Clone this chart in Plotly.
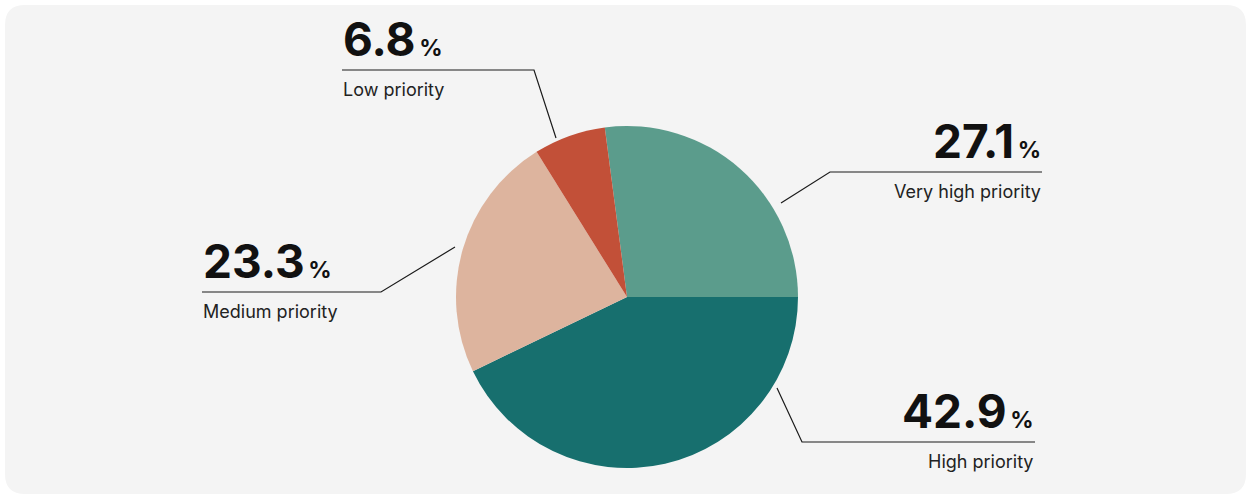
import plotly.graph_objects as go

# ---- data ----
labels = ["Very high priority", "High priority", "Medium priority", "Low priority"]
values = [27.1, 42.9, 23.3, 6.8]
colors = ["#5B9C8C", "#176F6E", "#DDB49E", "#C25038"]

W, H = 1251, 499
CX, CY, R = 627, 297, 171

def px(x):
    return x / W

def py(y):
    return 1 - y / H

# label placement (pixel layout): (line start on pie, elbow, line end, side)
placement = {
    "Very high priority": dict(p0=(781, 203), p1=(830, 172), p2=(1042, 172), side="right"),
    "High priority": dict(p0=(777, 388), p1=(802, 442), p2=(1035, 442), side="right"),
    "Medium priority": dict(p0=(455, 247), p1=(381, 292), p2=(202, 292), side="left"),
    "Low priority": dict(p0=(556, 138), p1=(534, 70), p2=(342, 70), side="left"),
}

# start angle so that 'Very high' ends at 3 o'clock
rotation = 90 - values[0] / sum(values) * 360

fig = go.Figure(go.Pie(
    labels=labels, values=values, sort=False, direction="clockwise",
    rotation=rotation,
    marker=dict(colors=colors, line=dict(width=0)),
    textinfo="none", hoverinfo="skip", showlegend=False,
    domain=dict(x=[px(CX - R), px(CX + R)], y=[py(CY + R), py(CY - R)]),
))

# rounded background panel
r = 20
x0, x1, y0, y1 = 5, 1246, 5, 494
path = (f"M {px(x0 + r)} {py(y0)} L {px(x1 - r)} {py(y0)} "
        f"Q {px(x1)} {py(y0)} {px(x1)} {py(y0 + r)} L {px(x1)} {py(y1 - r)} "
        f"Q {px(x1)} {py(y1)} {px(x1 - r)} {py(y1)} L {px(x0 + r)} {py(y1)} "
        f"Q {px(x0)} {py(y1)} {px(x0)} {py(y1 - r)} L {px(x0)} {py(y0 + r)} "
        f"Q {px(x0)} {py(y0)} {px(x0 + r)} {py(y0)} Z")
shapes = [dict(type="path", xref="paper", yref="paper", path=path,
               fillcolor="#F4F4F4", line=dict(width=0), layer="below")]

annotations = []
for lab, val in zip(labels, values):
    p = placement[lab]
    (ax, ay), (bx, by), (cx, cy) = p["p0"], p["p1"], p["p2"]
    shapes.append(dict(type="path", xref="paper", yref="paper",
                       path=f"M {px(ax)} {py(ay)} L {px(bx)} {py(by)} L {px(cx)} {py(cy)}",
                       line=dict(color="#1a1a1a", width=1.2)))
    xa = max(bx, cx) if p["side"] == "right" else min(bx, cx)
    anchor = "right" if p["side"] == "right" else "left"
    annotations.append(dict(
        xref="paper", yref="paper", x=px(xa), y=py(by - 2), xanchor=anchor, yanchor="bottom",
        text=f"<b>{val:.1f}</b><b><span style='font-size:23px'>\u2009%</span></b>",
        showarrow=False, font=dict(family="Inter", size=46, color="#111111"), borderpad=0))
    annotations.append(dict(
        xref="paper", yref="paper", x=px(xa), y=py(by + 8), xanchor=anchor, yanchor="top",
        text=lab, showarrow=False, font=dict(family="Inter", size=18, color="#222222"), borderpad=0))

fig.update_layout(
    width=W, height=H, margin=dict(l=0, r=0, t=0, b=0),
    paper_bgcolor="white", plot_bgcolor="white",
    shapes=shapes, annotations=annotations,
)
fig.write_html("out.html")
